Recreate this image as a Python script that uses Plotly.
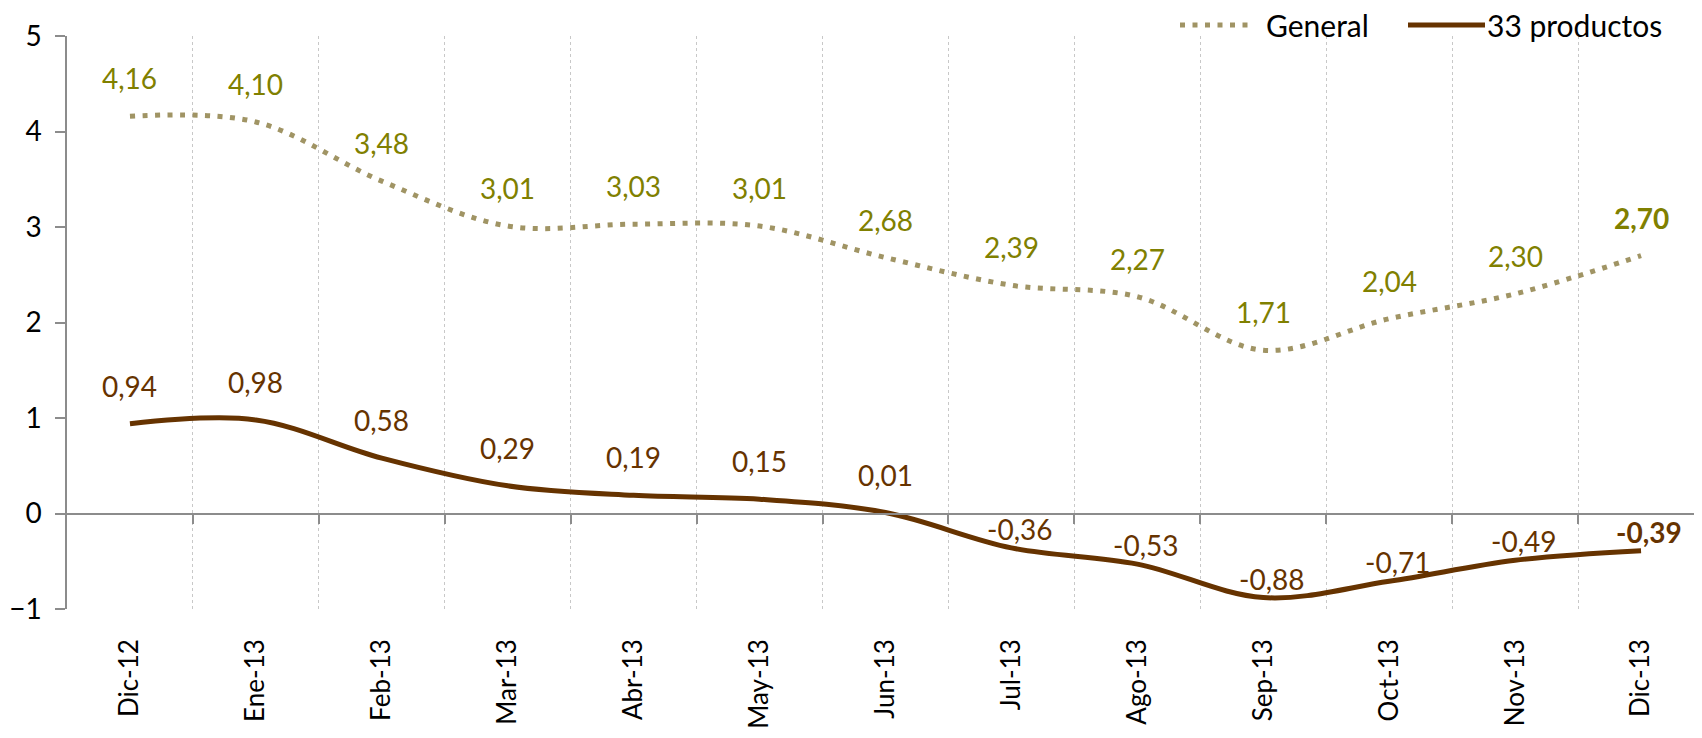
import plotly.graph_objects as go

# datos
meses = ['Dic-12', 'Ene-13', 'Feb-13', 'Mar-13', 'Abr-13', 'May-13', 'Jun-13',
         'Jul-13', 'Ago-13', 'Sep-13', 'Oct-13', 'Nov-13', 'Dic-13']
general = [4.16, 4.10, 3.48, 3.01, 3.03, 3.01, 2.68, 2.39, 2.27, 1.71, 2.04, 2.30, 2.70]
productos33 = [0.94, 0.98, 0.58, 0.29, 0.19, 0.15, 0.01, -0.36, -0.53, -0.88, -0.71, -0.49, -0.39]
y_ticks = [-1, 0, 1, 2, 3, 4, 5]

FONT = 'Lato'
COL_GEN_LINE = '#A09464'
COL_GEN_TXT = '#808000'
COL_PROD = '#663300'
GRIS = '#8C8C8C'

W, H = 1702, 738
OFF = 8  # margen del body de la pagina
# bordes del area de trazado en pixeles de la pagina
P_LEFT, P_RIGHT, P_TOP, P_BOTTOM = 67, 1704, 36, 609
ML, MT = P_LEFT - OFF, P_TOP - OFF
MR, MB = W - (P_RIGHT - OFF), H - (P_BOTTOM - OFF)
DOT = '5px,7.5px'


def etiqueta(v):
    return f'{v:.2f}'.replace('.', ',')


def etiquetas(valores, color):
    # rotulos de datos encima de cada punto, el ultimo en negrita
    anns = []
    for i, (m, v) in enumerate(zip(meses, valores)):
        txt = etiqueta(v)
        if i == len(valores) - 1:
            txt = '<b>' + txt + '</b>'
        anns.append(dict(x=m, y=v, xref='x', yref='y', text=txt, showarrow=False,
                         yanchor='bottom', yshift=19 if v >= 0 else 0,
                         xshift=0 if v >= 0 else 8,
                         font=dict(family=FONT, size=28, color=color)))
    return anns


def px_x(p):
    return (p - P_LEFT) / (P_RIGHT - P_LEFT)


def px_y(p):
    return (P_BOTTOM - p) / (P_BOTTOM - P_TOP)


# leyenda dibujada a mano (la de plotly empuja el margen superior)
ley_y = px_y(25)
leyenda_shapes = [
    dict(type='line', xref='paper', yref='paper', x0=px_x(1180), x1=px_x(1250),
         y0=ley_y, y1=ley_y, line=dict(color=COL_GEN_LINE, width=5, dash=DOT)),
    dict(type='line', xref='paper', yref='paper', x0=px_x(1408), x1=px_x(1485),
         y0=ley_y, y1=ley_y, line=dict(color=COL_PROD, width=5)),
]
leyenda_anns = [
    dict(x=px_x(1264), y=ley_y, xref='paper', yref='paper', text='General',
         showarrow=False, xanchor='left', yanchor='middle',
         font=dict(family=FONT, size=30, color='black')),
    dict(x=px_x(1485), y=ley_y, xref='paper', yref='paper', text='33 productos',
         showarrow=False, xanchor='left', yanchor='middle',
         font=dict(family=FONT, size=30, color='black')),
]

fig = go.Figure()
fig.add_trace(go.Scatter(x=meses, y=general, name='General', mode='lines',
                         line=dict(color=COL_GEN_LINE, width=5, dash=DOT,
                                   shape='spline', smoothing=1)))
fig.add_trace(go.Scatter(x=meses, y=productos33, name='33 productos', mode='lines',
                         line=dict(color=COL_PROD, width=5, shape='spline', smoothing=1)))
# traza vacia para que se dibuje el eje horizontal en cero
fig.add_trace(go.Scatter(x=[], y=[], xaxis='x2', showlegend=False, hoverinfo='skip'))

fig.update_layout(
    width=W, height=H,
    margin=dict(l=ML, r=MR, t=MT, b=MB),
    plot_bgcolor='white', paper_bgcolor='white',
    font=dict(family=FONT, size=27, color='black'),
    showlegend=False,
    shapes=leyenda_shapes,
    annotations=etiquetas(general, COL_GEN_TXT) + etiquetas(productos33, COL_PROD) + leyenda_anns,
    xaxis=dict(type='category', categoryorder='array', categoryarray=meses,
               range=[-0.5, len(meses) - 0.5], automargin=False,
               showline=False, ticks='', tickangle=-90, ticklabelstandoff=24,
               tickson='boundaries', showgrid=True, gridcolor='#C8C8C8',
               griddash='dot', gridwidth=1, zeroline=False,
               tickfont=dict(family=FONT, size=26, color='black')),
    xaxis2=dict(overlaying='x', anchor='free', position=1 / 6, automargin=False,
                range=[-0.5, len(meses) - 0.5], tickmode='array',
                tickvals=[i + 0.5 for i in range(len(meses) - 1)],
                showticklabels=False, ticks='outside', ticklen=10,
                tickcolor=GRIS, tickwidth=1.5,
                showline=True, linecolor=GRIS, linewidth=1.5,
                showgrid=False, zeroline=False),
    yaxis=dict(range=[-1, 5], tickvals=y_ticks, showline=True, linecolor=GRIS,
               linewidth=1.5, ticks='outside', ticklen=10, tickcolor=GRIS,
               tickwidth=1.5, showgrid=False, zeroline=False, ticklabelstandoff=8,
               automargin=False,
               tickfont=dict(family=FONT, size=28, color='black')),
)

fig.write_html('out.html')
